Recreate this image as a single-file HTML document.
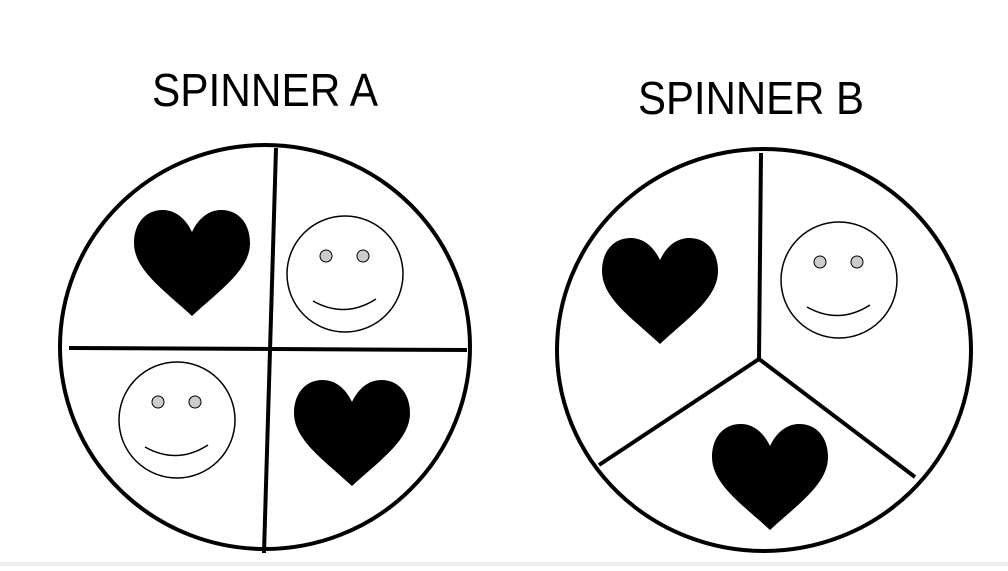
<!DOCTYPE html>
<html><head><style>html,body{margin:0;padding:0;background:#fff}</style></head>
<body>
<svg width="1008" height="566" viewBox="0 0 1008 566" xmlns="http://www.w3.org/2000/svg">
<defs>
<path id="h" d="M58 22 C50 5 38 0 29 0 C10 0 0 15 0 33 C0 60 30 80 58 106 C86 80 116 60 116 33 C116 15 106 0 87 0 C78 0 66 5 58 22 Z"/>
<g id="s">
<circle cx="0" cy="0" r="58" fill="#fff" stroke="#000" stroke-width="1.5"/>
<circle cx="-19" cy="-18" r="6" fill="#ccc" stroke="#000" stroke-width="1"/>
<circle cx="18" cy="-18" r="6" fill="#ccc" stroke="#000" stroke-width="1"/>
<path d="M-32 27 Q0 45 31 25" fill="none" stroke="#000" stroke-width="1.5"/>
</g>
</defs>
<text x="152" y="106" font-family="Liberation Sans, sans-serif" font-size="46" textLength="226" lengthAdjust="spacingAndGlyphs">SPINNER A</text>
<text x="638" y="114" font-family="Liberation Sans, sans-serif" font-size="46" textLength="226" lengthAdjust="spacingAndGlyphs">SPINNER B</text>

<ellipse cx="265" cy="347" rx="205" ry="202" fill="none" stroke="#000" stroke-width="4"/>
<line x1="276" y1="148" x2="264" y2="553" stroke="#000" stroke-width="4"/>
<line x1="69" y1="348" x2="467" y2="350" stroke="#000" stroke-width="4"/>
<use href="#h" x="134" y="210"/>
<use href="#h" x="294" y="380"/>
<use href="#s" x="345" y="274"/>
<use href="#s" x="177" y="420"/>

<ellipse cx="764" cy="350" rx="207" ry="201" fill="none" stroke="#000" stroke-width="4"/>
<line x1="761" y1="153" x2="759" y2="359" stroke="#000" stroke-width="4"/>
<line x1="759" y1="359" x2="599" y2="465" stroke="#000" stroke-width="4"/>
<line x1="759" y1="359" x2="915" y2="477" stroke="#000" stroke-width="4"/>
<use href="#h" x="602" y="238"/>
<use href="#h" x="712" y="424"/>
<use href="#s" x="839" y="280"/>

<rect x="0" y="562" width="1008" height="4" fill="#eee"/>
</svg>
</body></html>
